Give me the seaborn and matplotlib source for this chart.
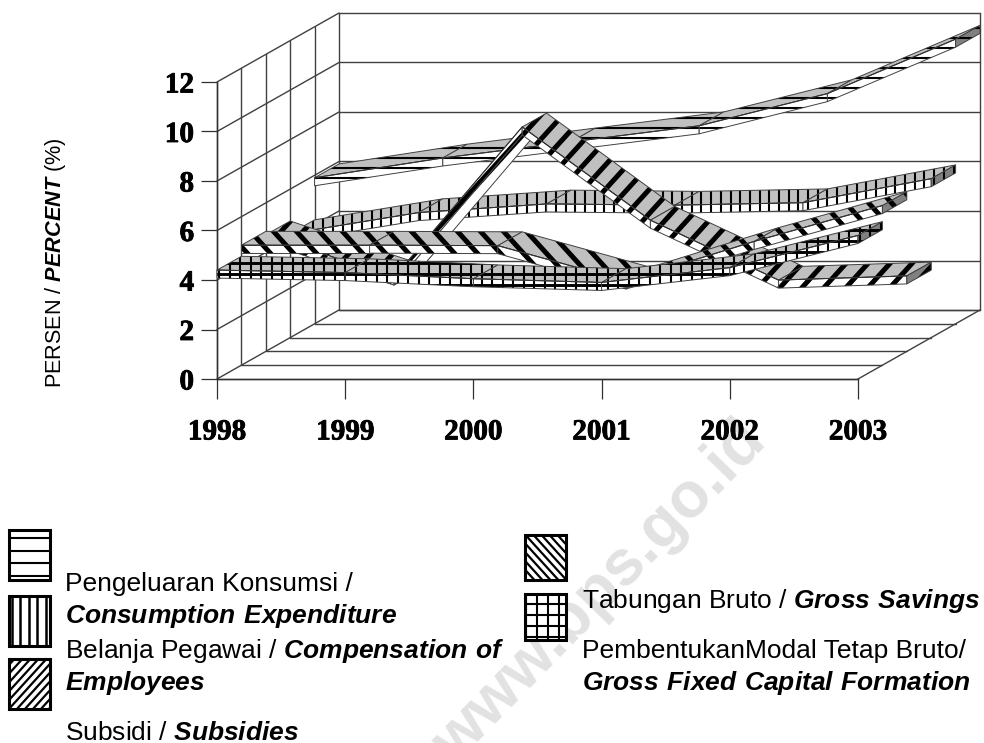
import numpy as np
import pandas as pd
import seaborn as sns
import matplotlib.pyplot as plt
from matplotlib.patches import Polygon
from matplotlib.collections import LineCollection
from matplotlib.transforms import IdentityTransform
import matplotlib.patheffects as pe

# values, front ribbon first
years = ["1998", "1999", "2000", "2001", "2002", "2003"]
gfcf = [4.4, 4.3, 4.05, 3.9, 4.5, 5.8]
savings = [4.85, 4.85, 4.83, 3.4, 5.0, 6.45]
subsidies = [4.71, 3.0, 9.07, 5.3, 2.88, 3.05]
compensation = [4.2, 5.05, 5.4, 5.35, 5.45, 6.42]
consumption = [5.9, 6.7, 7.35, 8.0, 9.3, 11.5]
y_ticks = [0, 2, 4, 6, 8, 10, 12]

sns.set_style("white")
plt.rcParams["font.family"] = ["Liberation Sans"]
plt.rcParams["mathtext.fontset"] = "custom"
plt.rcParams["mathtext.rm"] = "Liberation Sans"
plt.rcParams["mathtext.bfit"] = "Liberation Sans:italic:bold"

W, H = 984, 743
fig = plt.figure(figsize=(W / 100, H / 100), dpi=100)

# overlay in image pixels for legend, watermark, labels
lg = fig.add_axes([0, 0, 1, 1])
lg.set_xlim(0, W)
lg.set_ylim(H, 0)
lg.axis("off")

# main axes: one category = 128.2 px, one unit = 24.75 px
X0, Y0, CAT, UNIT = 217, 379, 128.2, 24.75
ax = fig.add_axes([X0 / W, (H - Y0) / H, 763 / W, 366 / H])
ax.patch.set_alpha(0)
ax.set_xlim(0, 763 / CAT)
ax.set_ylim(0, 366 / UNIT)
DX, DY = 24.4 / CAT, 13.8 / UNIT
TH = 8 / UNIT
EDGE = "#404040"


def pattern_lines(kind, small=False):
    # screen space pattern, y up: list of (segments, width)
    if kind == "h":
        sp = 12.5 if small else 10
        return [([[(0, y), (W, y)] for y in np.arange(4.7, H, sp)], 1.5)]
    if kind == "v":
        sp = 8.5 if small else 9.7
        return [([[(x, 0), (x, H)] for x in np.arange(3, W, sp)], 1.8 if small else 1.5)]
    if kind == "g":
        sp = 11 if small else 10.5
        v = [[(x, 0), (x, H)] for x in np.arange(9.2, W, sp)]
        h = [[(0, y), (W, y)] for y in np.arange(7.3, H, 11)]
        return [(v, 1.5), (h, 1.5 if small else 2.1)]
    if kind == "/":
        sp = 8 if small else 22
        return [([[(x, 0), (x + H / 1.1, H)] for x in np.arange(-H + 9, W, sp)], 1.6 if small else 3.6)]
    sp = 8 if small else 23
    return [([[(x, 0), (x - H / 1.1, H)] for x in np.arange(2.6, W + H, sp)], 1.6 if small else 3.6)]


def face(axis, pts, color, kind, z, lw=0.7, edge=EDGE, small=False):
    poly = Polygon(pts, closed=True, facecolor=color, edgecolor="none", zorder=z, clip_on=False)
    axis.add_patch(poly)
    for segs, w in pattern_lines(kind, small):
        lc = LineCollection(segs, colors="black", linewidths=w, transform=IdentityTransform(), zorder=z + 0.1)
        axis.add_collection(lc, autolim=False)
        lc.set_clip_path(poly)
    axis.add_patch(Polygon(pts, closed=True, fill=False, edgecolor=edge, linewidth=lw, zorder=z + 0.2, clip_on=False))


# walls and floor
wall = dict(color="#404040", lw=1, clip_on=False, zorder=1)
n = len(years) - 1
for v in y_ticks:
    ax.plot([0, 5 * DX], [v, v + 5 * DY], **wall)
    ax.plot([5 * DX, n + 5 * DX], [v + 5 * DY, v + 5 * DY], **wall)
for d in range(6):
    ax.plot([d * DX, d * DX], [d * DY, 12 + d * DY], **wall)
    ax.plot([d * DX, n + d * DX], [d * DY, d * DY], **wall)
ax.plot([n, n + 5 * DX], [0, 5 * DY], **wall)
ax.plot([n + 5 * DX] * 2, [5 * DY, 12 + 5 * DY], **wall)

# ribbons, back to front
ribbons = [(4, consumption, "h"), (3, compensation, "v"), (2, subsidies, "/"), (1, savings, "\\"), (0, gfcf, "g")]
z = 2
for d, vals, kind in ribbons:
    xs = np.arange(len(vals)) + d * DX
    ys = np.array(vals) + d * DY
    for i in range(n):
        a, b = (xs[i], ys[i]), (xs[i + 1], ys[i + 1])
        c, e = (b[0] + DX, b[1] + DY), (a[0] + DX, a[1] + DY)
        rise = (b[1] - a[1]) * UNIT
        if CAT * DY * UNIT - rise * DX * CAT > 0:
            face(ax, [a, b, c, e], "#c0c0c0", kind, z)
        else:
            # steep rise: the underside shows
            under = [(p[0], p[1] - TH) for p in (a, b, c, e)]
            face(ax, under, "white", kind, z)
        z += 1
        face(ax, [a, b, (b[0], b[1] - TH), (a[0], a[1] - TH)], "white", kind, z)
        z += 1
    last = (xs[-1], ys[-1])
    cap = [last, (last[0] + DX, last[1] + DY), (last[0] + DX, last[1] + DY - TH), (last[0], last[1] - TH)]
    face(ax, cap, "#808080", kind, z)
    z += 1
    front = pd.DataFrame({"x": xs, "y": ys})
    sns.lineplot(data=front, x="x", y="y", color="#303030", lw=0.7, ax=ax, zorder=z, clip_on=False)
    z += 1

# axes
sns.despine(ax=ax)
ax.spines["left"].set_bounds(0, 12)
ax.spines["bottom"].set_bounds(0, n)
for s in ["left", "bottom"]:
    ax.spines[s].set_color("#303030")
    ax.spines[s].set_linewidth(1)
ax.set_xlabel("")
ax.set_ylabel("")
ax.set_xticks(range(len(years)), years)
ax.set_yticks(y_ticks, [str(v) for v in y_ticks])
ax.tick_params(axis="x", bottom=True, length=14.4, width=0.9, color="#303030", pad=14)
ax.tick_params(axis="y", left=True, length=11.5, width=0.9, color="#303030", pad=5)
for t in ax.get_xticklabels() + ax.get_yticklabels():
    t.set_fontfamily("Liberation Serif")
    t.set_fontweight("bold")
    t.set_fontsize(21)
    t.set_color("black")
    t.set_path_effects([pe.withStroke(linewidth=0.6, foreground="black")])

lg.text(55, 262.5, r"PERSEN / $\mathbfit{PERCENT}$ (%)", rotation=90, ha="center", va="center", fontsize=15.6, color="black")

# watermark, runs off the bottom edge like the source
lg.text(612, 604, "www.bps.go.id", rotation=45.8, rotation_mode="anchor", ha="center", va="baseline",
        fontsize=46, fontweight="bold", color="#e2e2e2", zorder=0)

# legend swatches, image pixels
swatches = [(9, 530, 41, 50, "h"), (9, 596, 41, 50, "v"), (9, 659, 41, 50, "/"), (525, 535, 41, 45, "\\"), (525, 594, 41, 46, "g")]
for sx, sy, sw, sh, kind in swatches:
    face(lg, [(sx, sy), (sx + sw, sy), (sx + sw, sy + sh), (sx, sy + sh)], "white", kind, 3, lw=2.2, edge="black", small=True)

labels = [
    (65, 591, r"Pengeluaran Konsumsi /"),
    (65, 623, r"$\mathbfit{Consumption\ Expenditure}$"),
    (65, 658, r"Belanja Pegawai / $\mathbfit{Compensation\ of}$"),
    (65, 690, r"$\mathbfit{Employees}$"),
    (65, 740, r"Subsidi / $\mathbfit{Subsidies}$"),
    (582, 608, r"Tabungan Bruto / $\mathbfit{Gross\ Savings}$"),
    (582, 658, r"PembentukanModal Tetap Bruto/"),
    (582, 690, r"$\mathbfit{Gross\ Fixed\ Capital\ Formation}$"),
]
for tx, ty, s in labels:
    lg.text(tx, ty, s, fontsize=19, va="baseline", color="black", zorder=4)

fig.savefig("out.png", dpi=100)
